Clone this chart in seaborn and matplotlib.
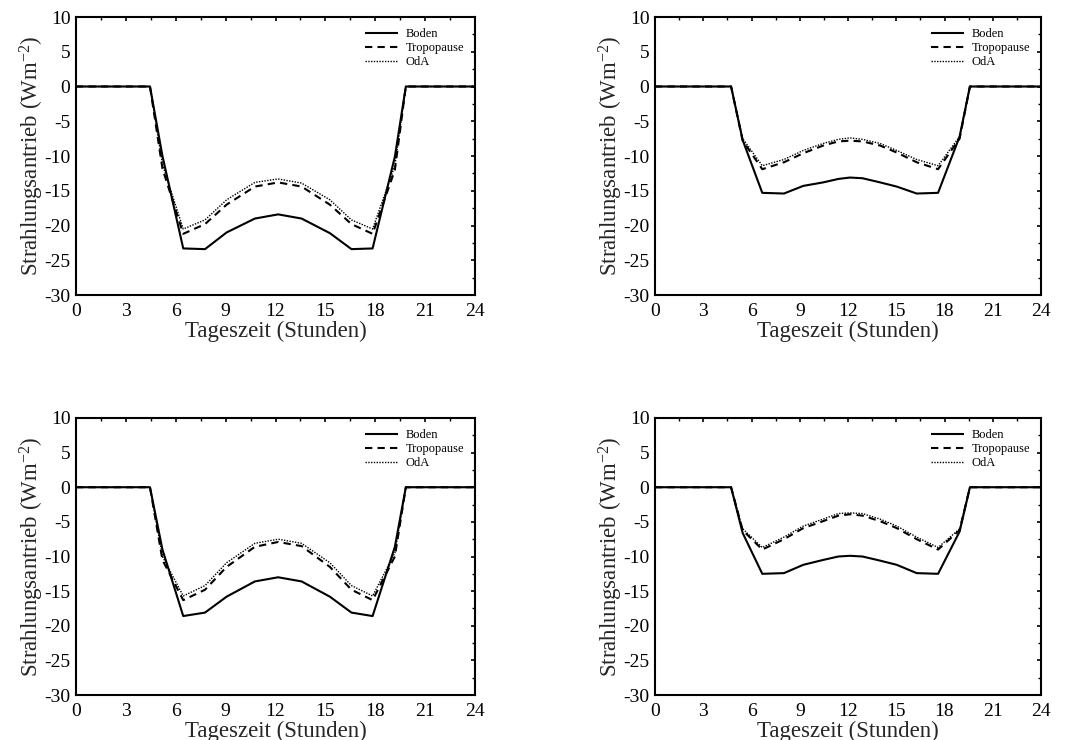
import numpy as np
import pandas as pd
import matplotlib
matplotlib.use("Agg")
import matplotlib.pyplot as plt
import seaborn as sns
from matplotlib.ticker import MultipleLocator

# ---- data ----
t_a = [0, 4.45, 5.2, 6.45, 7.76, 9.06, 10.76, 12.16, 13.57, 15.27, 16.57, 17.84, 19.18, 19.84, 24]
t_b = [0, 4.73, 5.45, 6.67, 8.02, 9.22, 10.45, 11.4, 12.12, 12.9, 14.0, 15.03, 16.27, 17.6, 18.94, 19.58, 24]

tl_boden = [0, 0, -10.0, -23.3, -23.4, -21.0, -19.0, -18.4, -19.0, -21.1, -23.4, -23.3, -10.1, 0, 0]
tl_tropo = [0, 0, -11.8, -21.2, -19.8, -17.0, -14.4, -13.8, -14.4, -17.0, -19.8, -21.2, -12.0, 0, 0]
tl_oda   = [0, 0, -11.2, -20.5, -19.2, -16.3, -13.8, -13.3, -13.9, -16.3, -19.2, -20.5, -11.4, 0, 0]

tr_boden = [0, 0, -7.7, -15.3, -15.4, -14.3, -13.8, -13.3, -13.1, -13.2, -13.8, -14.4, -15.4, -15.3, -7.2, 0, 0]
tr_tropo = [0, 0, -7.8, -11.9, -10.9, -9.6, -8.5, -7.9, -7.8, -7.9, -8.5, -9.5, -10.9, -11.9, -7.5, 0, 0]
tr_oda   = [0, 0, -7.5, -11.4, -10.5, -9.2, -8.2, -7.6, -7.4, -7.6, -8.2, -9.2, -10.5, -11.4, -7.2, 0, 0]

bl_boden = [0, 0, -9.0, -18.6, -18.1, -15.8, -13.6, -13.0, -13.6, -15.8, -18.1, -18.6, -8.6, 0, 0]
bl_tropo = [0, 0, -10.5, -16.3, -14.8, -11.5, -8.6, -7.9, -8.5, -11.5, -14.8, -16.3, -10.0, 0, 0]
bl_oda   = [0, 0, -10.0, -15.7, -14.2, -10.9, -8.1, -7.5, -8.1, -10.9, -14.2, -15.7, -9.5, 0, 0]

br_boden = [0, 0, -6.6, -12.5, -12.4, -11.2, -10.5, -10.0, -9.9, -10.0, -10.6, -11.2, -12.4, -12.5, -6.4, 0, 0]
br_tropo = [0, 0, -6.2, -9.0, -7.5, -5.9, -4.9, -4.1, -3.9, -4.1, -4.9, -5.9, -7.5, -9.0, -6.2, 0, 0]
br_oda   = [0, 0, -6.0, -8.7, -7.2, -5.6, -4.6, -3.8, -3.7, -3.8, -4.6, -5.6, -7.2, -8.7, -6.0, 0, 0]

series_names = ["Boden", "Tropopause", "OdA"]
x_ticks = [0, 3, 6, 9, 12, 15, 18, 21, 24]
y_ticks = [-30, -25, -20, -15, -10, -5, 0, 5, 10]
x_label = "Tageszeit (Stunden)"
y_label = "Strahlungsantrieb (Wm$^{\\mathregular{-2}}$)"

panels = [
    (t_a, tl_boden, tl_tropo, tl_oda),
    (t_b, tr_boden, tr_tropo, tr_oda),
    (t_a, bl_boden, bl_tropo, bl_oda),
    (t_b, br_boden, br_tropo, br_oda),
]

sns.set_theme(style="white")
plt.rcParams["font.family"] = ["Liberation Serif", "DejaVu Serif"]
plt.rcParams["mathtext.fontset"] = "custom"
plt.rcParams["mathtext.rm"] = "Liberation Serif"
plt.rcParams["mathtext.it"] = "Liberation Serif:italic"
plt.rcParams["axes.unicode_minus"] = False

fig = plt.figure(figsize=(10.71, 7.40), dpi=100)
W, H = 1071, 740
boxes = [(76, 17, 475, 295), (655, 17, 1041, 295), (76, 418, 475, 695), (655, 418, 1041, 695)]

styles = {"Boden": (0, ()), "Tropopause": (0, (3.5, 2.5)), "OdA": (0, (1, 1))}
widths = {"Boden": 1.5, "Tropopause": 1.5, "OdA": 1.0}

for (x0, y0, x1, y1), (t, b, tr, o) in zip(boxes, panels):
    ax = fig.add_axes([x0 / W, 1 - y1 / H, (x1 - x0) / W, (y1 - y0) / H])
    df = pd.DataFrame({
        "t": list(t) * 3,
        "v": list(b) + list(tr) + list(o),
        "s": [series_names[0]] * len(t) + [series_names[1]] * len(t) + [series_names[2]] * len(t),
    })
    for name in series_names:
        sub = df[df["s"] == name]
        sns.lineplot(data=sub, x="t", y="v", ax=ax, color="black",
                     linewidth=widths[name], linestyle=styles[name], label=name,
                     sort=False, estimator=None)
    ax.set_xlim(0, 24)
    ax.set_ylim(-30, 10)
    ax.set_xticks(x_ticks)
    ax.set_yticks(y_ticks)
    ax.xaxis.set_minor_locator(MultipleLocator(1.5))
    ax.yaxis.set_minor_locator(MultipleLocator(2.5))
    ax.tick_params(which="both", direction="in", top=True, right=True,
                   color="black", labelsize=14)
    ax.tick_params(axis="x", which="major", pad=6)
    ax.tick_params(axis="y", which="major", pad=4)
    ax.tick_params(which="major", length=3, width=1.2)
    ax.tick_params(which="minor", length=2, width=1.0)
    for sp in ax.spines.values():
        sp.set_color("black")
        sp.set_linewidth(1.5)
    ax.set_xlabel(x_label, fontsize=16.5, labelpad=0)
    ax.set_ylabel(y_label, fontsize=16.5, labelpad=-1)
    for lbl in ax.get_xticklabels() + ax.get_yticklabels():
        lbl.set_color("black")
    leg = ax.legend(loc="upper right", frameon=False, fontsize=9,
                    handlelength=2.6, handletextpad=0.6, labelspacing=0.15,
                    borderaxespad=0.5)
    for txt in leg.get_texts():
        txt.set_color("black")

fig.savefig("out.png", dpi=100)
